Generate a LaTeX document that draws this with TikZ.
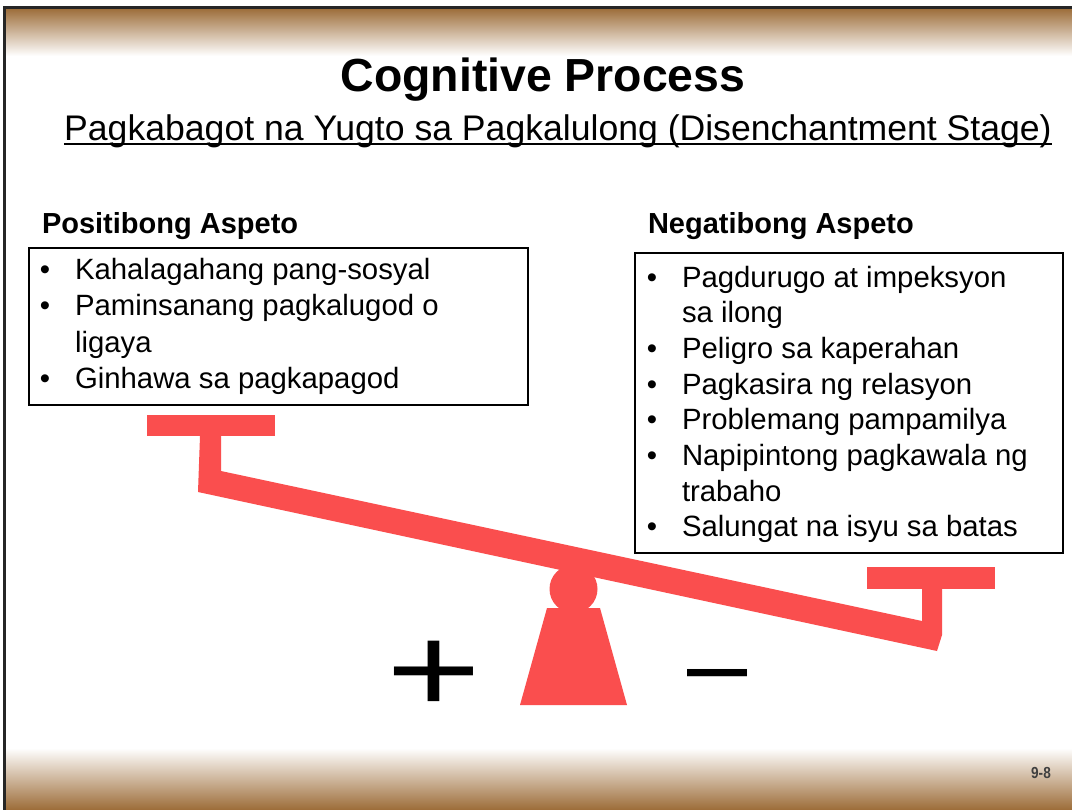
\documentclass[tikz,border=0pt]{standalone}
\usepackage{fontspec}
\setmainfont{Liberation Sans}
\usepackage{graphicx}
\definecolor{brn}{RGB}{156,108,56}
\definecolor{seesaw}{RGB}{250,78,78}
\begin{document}
\begin{tikzpicture}[x=0.75pt,y=-0.75pt,
  txt/.style={inner sep=0pt, outer sep=0pt, anchor=base west},
  body/.style={txt, font=\fontsize{22}{26}\selectfont},
  bul/.style={inner sep=0pt, outer sep=0pt, anchor=base, font=\fontsize{22}{26}\selectfont},
  head/.style={txt, font=\fontsize{21.75}{26}\selectfont\bfseries},
  listbox/.style={draw=black, line width=2.2pt},
  redpart/.style={fill=seesaw}]
\useasboundingbox (0,0) rectangle (1072,810);
\fill[white] (0,0) rectangle (1072,810);
% bars
\shade[top color=brn, bottom color=white] (4.5,8) rectangle (1072,56);
\shade[top color=white, middle color=brn!35, bottom color=brn] (4.5,748) rectangle (1072,810);
\draw[line width=2pt, black!85] (4.5,810) -- (4.5,7.5) -- (1072,7.5);
% title
\node[inner sep=0pt, anchor=base, font=\fontsize{34.8}{40}\selectfont\bfseries] (title) at (543,91) {Cognitive Process};
\node[inner sep=0pt, anchor=base, font=\fontsize{26.7}{30}\selectfont] (sub) at (558,140) {Pagkabagot na Yugto sa Pagkalulong (Disenchantment Stage)};
\draw[line width=1.3pt] ([yshift=-3pt]sub.base west) -- ([yshift=-3pt]sub.base east);
% headers
\node[head] (poshead) at (42,233) {Positibong Aspeto};
\node[head] (neghead) at (648,233) {Negatibong Aspeto};
% boxes
\draw[listbox] (29,248) rectangle (528,405);
\draw[listbox] (635,253) rectangle (1063,553);
% left list
\node[bul] (lb1) at (45,279) {•};
\node[body] (l1) at (75,279) {Kahalagahang pang-sosyal};
\node[bul] (lb2) at (45,315.5) {•};
\node[body] (l2) at (75,315.5) {Paminsanang pagkalugod o};
\node[body] (l3) at (75,352) {ligaya};
\node[bul] (lb4) at (45,388.5) {•};
\node[body] (l4) at (75,388.5) {Ginhawa sa pagkapagod};
% right list
\node[bul] (rb1) at (652,287) {•};
\node[body] (r1) at (682,287) {Pagdurugo at impeksyon};
\node[body] (r2) at (682,322.7) {sa ilong};
\node[bul] (rb3) at (652,358.4) {•};
\node[body] (r3) at (682,358.4) {Peligro sa kaperahan};
\node[bul] (rb4) at (652,394.1) {•};
\node[body] (r4) at (682,394.1) {Pagkasira ng relasyon};
\node[bul] (rb5) at (652,429.8) {•};
\node[body] (r5) at (682,429.8) {Problemang pampamilya};
\node[bul] (rb6) at (652,465.5) {•};
\node[body] (r6) at (682,465.5) {Napipintong pagkawala ng};
\node[body] (r7) at (682,501.2) {trabaho};
\node[bul] (rb8) at (652,536.9) {•};
\node[body] (r8) at (682,536.9) {Salungat na isyu sa batas};
% seesaw
\fill[redpart] (147,415) rectangle (275,436);
\fill[redpart] (867,567) rectangle (995,589);
\fill[redpart] (200,436) -- (221,436) -- (221,471) -- (922,621) -- (922,589) -- (942,589) -- (942,635) -- (937,651) -- (198,492) -- cycle;
\fill[redpart] (573.5,589) circle [radius=18pt];
\fill[redpart] (547,608) -- (600,608) -- (627,705) -- (520,705) -- cycle;
% plus and minus
\node[inner sep=0pt, anchor=base, font=\fontsize{122}{130}\selectfont] (plus) at (434,712) {\scalebox{1}[0.76]{+}};
\node[inner sep=0pt, anchor=base, font=\fontsize{81}{90}\selectfont] (minus) at (718,700) {–};
% page number
\node[inner sep=0pt, anchor=center, font=\fontsize{12}{14}\selectfont\bfseries, text=black!75] (pg) at (1041,773) {\scalebox{0.85}[1]{9-8}};
\end{tikzpicture}
\end{document}
